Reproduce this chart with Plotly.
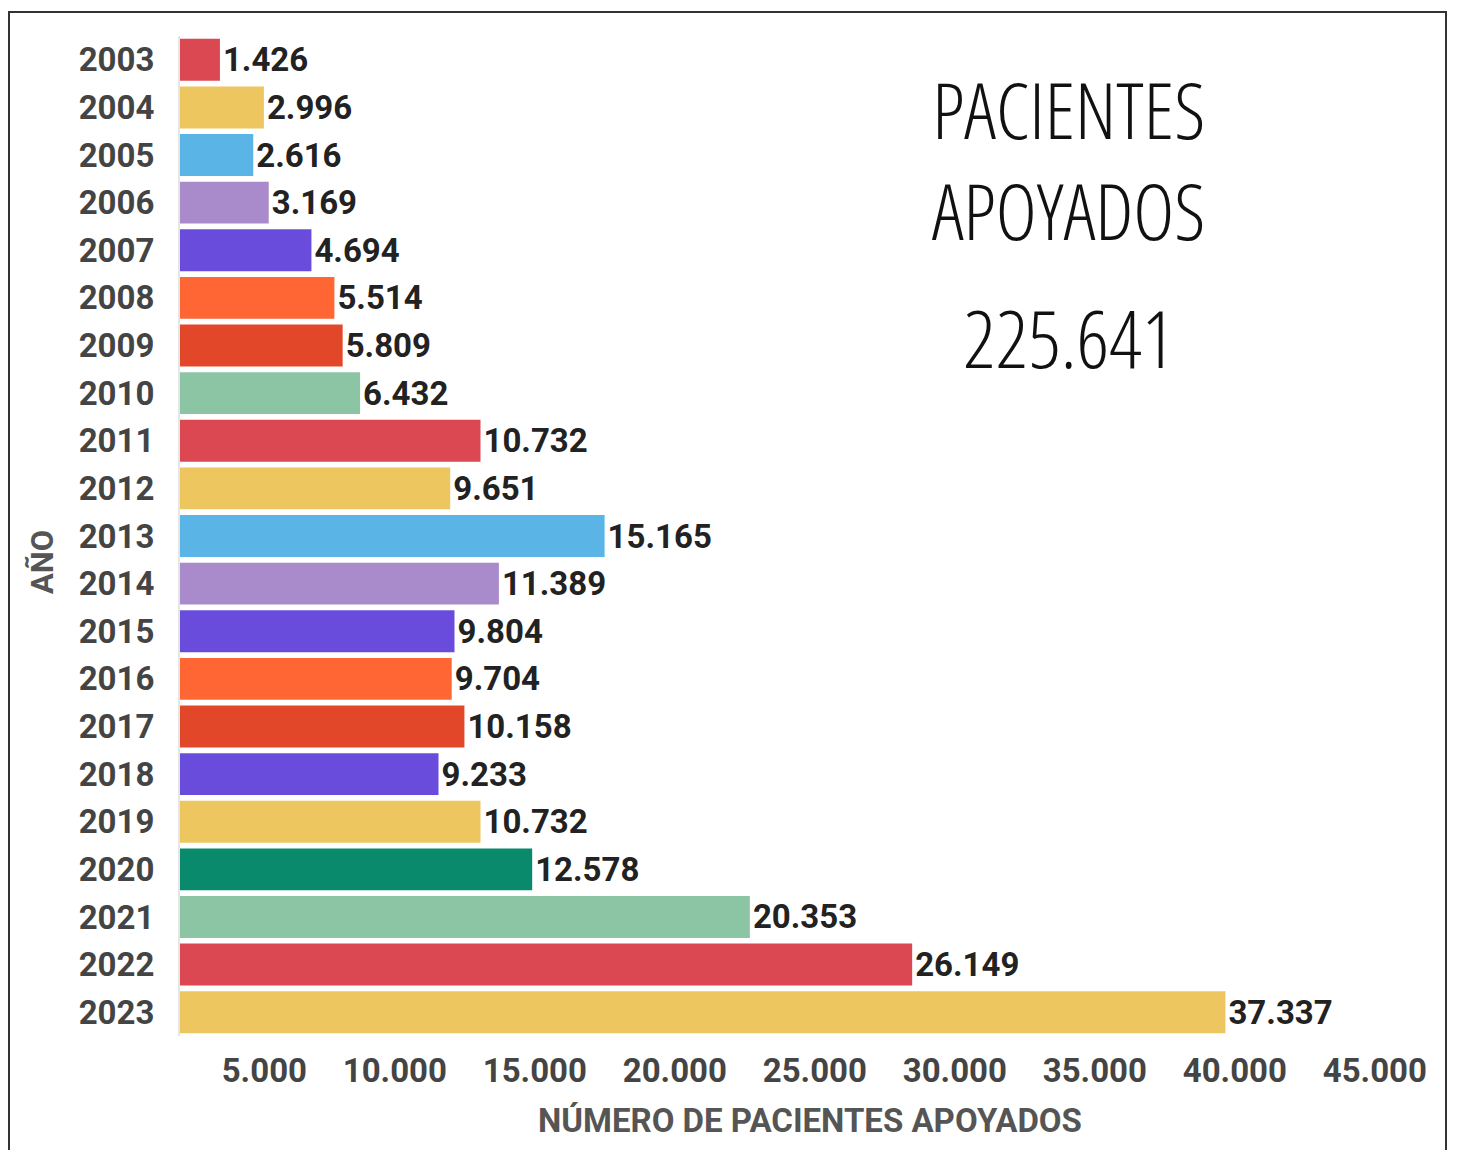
import plotly.graph_objects as go

years = [str(y) for y in range(2003, 2024)]
patients = [1426, 2996, 2616, 3169, 4694, 5514, 5809, 6432, 10732, 9651,
            15165, 11389, 9804, 9704, 10158, 9233, 10732, 12578, 20353, 26149, 37337]
bar_colors = ["#DB4852", "#EDC660", "#5AB5E6", "#A98BCC", "#6A4CDD", "#FF6633", "#E2472A",
              "#8CC5A4", "#DB4852", "#EDC660", "#5AB5E6", "#A98BCC", "#6A4CDD", "#FF6633",
              "#E2472A", "#6A4CDD", "#EDC660", "#0A8A6C", "#8CC5A4", "#DB4852", "#EDC660"]
x_ticks = [5000, 10000, 15000, 20000, 25000, 30000, 35000, 40000, 45000]
title_lines = ["PACIENTES", "APOYADOS"]
total_label = "225.641"

# page is offset by the 8px body margin
OFF = 8
W, H = 1459 - OFF, 1150 - OFF
L, R, T, B = 180 - OFF, 19, 36 - OFF, 114
PW, PH = W - L - R, H - T - B


def px(x_page):
    return (x_page - OFF - L) / PW


def py(y_page):
    return (H - B - (y_page - OFF)) / PH


fig = go.Figure(go.Bar(
    y=years, x=patients, orientation="h",
    marker=dict(color=bar_colors, line=dict(width=0)),
    texttemplate="%{x:,d}", textposition="outside", cliponaxis=False,
    textfont=dict(family="Roboto", size=33, color="#222222", weight="bold"),
))

fig.update_layout(
    width=W, height=H,
    margin=dict(l=L, r=R, t=T, b=B),
    paper_bgcolor="white", plot_bgcolor="white",
    separators=",.",
    bargap=0.12,
    showlegend=False,
    font=dict(family="Roboto"),
)
fig.update_xaxes(
    range=[0, 45000], tickvals=x_ticks, tickformat=",d",
    ticklabelposition="outside left", ticklabelstandoff=12, ticklabelshift=-13,
    showgrid=False, zeroline=False, showline=False, ticks="",
    tickfont=dict(family="Roboto", size=33, color="#444444", weight="bold"),
)
fig.update_yaxes(
    autorange="reversed", showgrid=False, zeroline=False,
    showline=True, linecolor="#E6E6E6", linewidth=2,
    ticks="", ticklabelstandoff=17,
    tickfont=dict(family="Roboto", size=33, color="#444444", weight="bold"),
)

fig.add_annotation(text="NÚMERO DE PACIENTES APOYADOS", xref="paper", yref="paper",
                   x=px(810), y=py(1120), xanchor="center", yanchor="middle", showarrow=False,
                   font=dict(family="Roboto", size=33, color="#555555", weight="bold"))
fig.add_annotation(text="AÑO", xref="paper", yref="paper", textangle=-90,
                   x=px(42), y=py(562), xanchor="center", yanchor="middle",
                   showarrow=False,
                   font=dict(family="Roboto", size=31, color="#555555", weight="bold"))

cond = '<span style="font-stretch:{}%">{}</span>'
fig.add_annotation(text="<br>".join(cond.format(86, t) for t in title_lines),
                   xref="paper", yref="paper",
                   x=px(1068), y=py(159), xanchor="center", yanchor="middle",
                   showarrow=False, align="center",
                   font=dict(family="Open Sans", size=78, color="#111111", weight=300))
fig.add_annotation(text=cond.format(77, total_label), xref="paper", yref="paper",
                   x=px(1068), y=py(336), xanchor="center", yanchor="middle",
                   showarrow=False,
                   font=dict(family="Open Sans", size=80, color="#111111", weight=300))

fig.add_shape(type="rect", xref="paper", yref="paper",
              x0=px(9), x1=px(1446),
              y0=py(1175), y1=py(12),
              line=dict(color="#333333", width=2), fillcolor="rgba(0,0,0,0)", layer="below")

fig.write_html("out.html")
